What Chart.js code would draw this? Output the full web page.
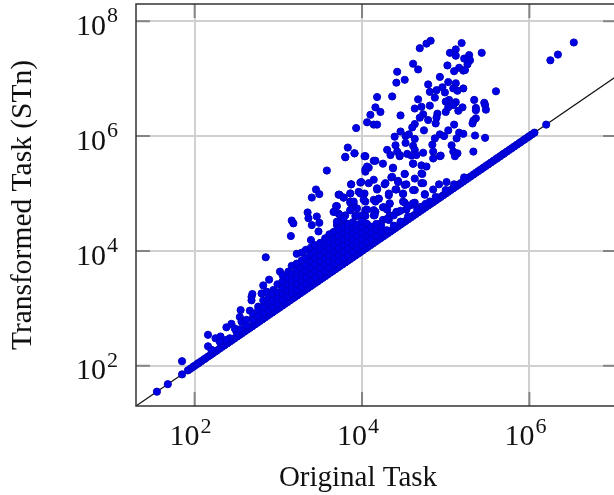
<!DOCTYPE html>
<html lang="en">
<head>
  <meta charset="UTF-8" />
  <title>Original vs Transformed Task</title>
  <script src="https://cdn.jsdelivr.net/npm/chart.js"></script>
  <style>
    html, body { margin: 0; padding: 0; background: #fff; }
    #wrap { width: 614px; height: 495px; }
  </style>
</head>
<body>
  <div id="wrap"><canvas id="chart" width="614" height="495"></canvas></div>
  <script>
    // all values are log10 of the task size
    const xRange = [1.30, 7.01];
    const yRange = [1.30, 8.30];
    const xTicks = [2, 4, 6];
    const yTicks = [2, 4, 6, 8];
    const refLine = [1.30, 8.30];

    // points sitting on the diagonal
    const sameSize = [1.55, 1.68, 1.85, 1.92, 1.95, 1.98, 2.0, 2.03, 2.05, 2.08, 2.11, 2.13, 2.16, 2.19, 2.22, 2.25, 2.27, 2.3,
      2.33, 2.36, 2.39, 2.42, 2.45, 2.48, 2.51, 2.54, 2.57, 2.6, 2.63, 2.66, 2.69, 2.72, 2.75, 2.78, 2.81, 2.84, 2.87, 2.9,
      2.93, 2.96, 2.99, 3.02, 3.05, 3.08, 3.11, 3.14, 3.17, 3.2, 3.23, 3.26, 3.29, 3.32, 3.35, 3.38, 3.41, 3.44, 3.47, 3.5,
      3.53, 3.56, 3.59, 3.62, 3.65, 3.68, 3.71, 3.74, 3.77, 3.8, 3.83, 3.86, 3.89, 3.92, 3.95, 3.98, 4.01, 4.04, 4.07, 4.1,
      4.13, 4.16, 4.19, 4.22, 4.25, 4.28, 4.31, 4.34, 4.37, 4.4, 4.43, 4.46, 4.49, 4.52, 4.55, 4.58, 4.61, 4.64, 4.67, 4.7,
      4.73, 4.76, 4.79, 4.82, 4.85, 4.88, 4.91, 4.94, 4.97, 5.0, 5.03, 5.06, 5.09, 5.12, 5.15, 5.18, 5.21, 5.24, 5.27, 5.3,
      5.33, 5.36, 5.39, 5.42, 5.45, 5.48, 5.51, 5.54, 5.57, 5.6, 5.62, 5.65, 5.68, 5.7, 5.73, 5.76, 5.79, 5.82, 5.85, 5.88,
      5.9, 5.93, 5.95, 5.98, 6.0, 6.03, 6.06, 6.2];

    // scattered points at the top
    const topX = [6.53, 6.34, 6.25, 4.82, 4.77, 4.69, 5.19, 5.12, 5.05, 5.12, 5.43, 5.28, 5.22, 5.29, 5.26, 5.02, 4.61, 4.67, 4.42, 5.16,
      5.1, 5.21, 5.23, 4.51, 4.41, 4.93, 5.03, 5.12, 4.79, 4.96, 5.21, 5.09, 5.14, 4.99, 4.81, 4.89, 5.6, 4.36, 4.18, 4.87,
      4.67, 5.04, 5.0, 5.12, 5.34, 5.46, 5.47, 4.16, 4.22, 4.1, 4.46, 4.63, 4.71, 4.81, 5.09, 5.03, 5.2, 5.15, 5.0, 5.36,
      5.36, 5.48, 4.9, 4.73, 4.69, 4.89, 4.79, 5.36, 5.33, 5.32, 4.06, 4.14, 4.18, 3.93, 4.63, 4.6, 4.74, 4.88, 5.1, 4.46,
      4.39, 4.52, 4.56, 5.03, 4.93, 4.87, 4.98, 5.16, 5.21, 5.35, 5.47, 4.63, 4.52, 5.13, 5.07, 4.84, 4.4, 4.61, 4.63, 3.83,
      3.8, 3.91, 4.04, 4.3, 4.42, 5.33, 5.09, 5.14, 5.11, 4.94, 4.85, 4.73, 4.54, 4.59, 4.45, 4.34];
    const topY = [7.63, 7.42, 7.32, 7.66, 7.61, 7.53, 7.62, 7.51, 7.45, 7.4, 7.45, 7.41, 7.35, 7.32, 7.25, 7.23, 7.26, 7.16, 7.12, 7.19,
      7.13, 7.14, 7.15, 6.98, 6.93, 7.03, 6.94, 6.92, 6.9, 6.85, 6.83, 6.83, 6.79, 6.76, 6.77, 6.8, 6.78, 6.69, 6.68, 6.67,
      6.64, 6.63, 6.6, 6.59, 6.63, 6.58, 6.54, 6.5, 6.42, 6.37, 6.36, 6.48, 6.51, 6.53, 6.54, 6.5, 6.5, 6.44, 6.42, 6.49,
      6.45, 6.46, 6.39, 6.38, 6.32, 6.32, 6.28, 6.31, 6.27, 6.22, 6.24, 6.2, 6.2, 6.14, 6.21, 6.15, 6.1, 6.22, 6.2, 6.08,
      5.99, 6.0, 6.03, 6.1, 6.03, 5.96, 6.0, 6.06, 6.04, 6.01, 5.97, 5.95, 5.88, 5.96, 5.84, 5.85, 5.84, 5.83, 5.76, 5.8,
      5.64, 5.7, 5.65, 5.76, 5.73, 5.73, 5.73, 5.7, 5.65, 5.66, 5.73, 5.71, 5.69, 5.66, 5.65, 5.67];

    // the looser middle of the cloud
    const midX = [3.58, 3.8, 3.91, 4.03, 4.14, 4.25, 4.08, 4.04, 4.37, 4.51, 4.35, 4.61, 4.71, 4.77, 4.72, 4.63, 4.93, 4.85, 4.65, 4.45,
      3.87, 3.98, 4.14, 4.27, 4.43, 4.51, 4.71, 4.63, 4.75, 4.85, 4.92, 5.01, 3.45, 3.4, 3.49, 3.72, 3.78, 3.86, 3.96, 4.03,
      4.18, 4.32, 4.41, 4.49, 4.2, 4.14, 3.69, 3.66, 3.86, 3.9, 4.04, 3.94, 4.04, 4.14, 4.14, 4.25, 4.33, 4.49, 4.59, 4.63,
      3.35, 3.36, 3.46, 3.49, 3.4, 3.16, 3.18, 3.15, 3.48, 3.39, 3.86, 3.72, 3.8, 3.92, 4.04, 3.74, 3.8, 3.7, 4.43, 4.33,
      4.25, 4.18, 4.53, 4.71, 4.81, 2.85];
    const midY = [5.4, 5.63, 5.7, 5.65, 5.57, 5.52, 5.45, 5.38, 5.45, 5.34, 5.28, 5.52, 5.49, 5.47, 5.34, 5.26, 5.65, 5.61, 5.67, 5.67,
      5.16, 5.19, 5.24, 5.16, 5.22, 5.15, 5.18, 5.06, 4.99, 5.07, 5.16, 5.2, 5.07, 4.93, 4.99, 4.98, 4.93, 5.0, 5.03, 5.0,
      5.07, 4.97, 5.07, 4.99, 4.91, 4.89, 4.78, 4.68, 4.84, 4.82, 4.86, 4.74, 4.71, 4.71, 4.62, 4.76, 4.82, 4.86, 4.8, 4.84,
      4.67, 4.57, 4.6, 4.49, 4.45, 4.53, 4.48, 4.26, 4.34, 4.19, 4.71, 4.65, 4.62, 4.61, 4.61, 4.54, 4.47, 4.45, 4.68, 4.62,
      4.54, 4.45, 4.72, 4.77, 4.86, 3.89];

    // second reading of the band just above the dense part
    const bandX = [3.67, 3.7, 3.73, 3.78, 3.86, 3.87, 3.86, 3.9, 3.98, 4.02, 4.06, 4.0, 3.94, 3.86, 3.74, 3.78, 3.7, 3.84, 3.72, 3.66,
      4.16, 4.15, 4.26, 4.3, 4.33, 4.16, 4.2, 4.32, 4.4, 4.49, 4.61, 4.75, 4.51, 4.61, 4.41, 4.32, 4.22, 4.14, 4.02, 4.1,
      3.99, 4.08, 4.18, 4.28, 4.36, 4.51, 4.61, 4.71, 4.43, 4.53, 4.73, 4.37, 4.16, 4.04, 4.06];
    const bandY = [4.68, 4.78, 4.98, 4.93, 5.0, 5.16, 4.86, 4.86, 5.0, 4.89, 4.72, 4.62, 4.61, 4.71, 4.62, 4.57, 4.51, 4.47, 4.39, 4.33,
      4.68, 4.62, 4.76, 4.72, 4.83, 4.86, 4.91, 5.0, 5.07, 5.0, 5.06, 4.98, 4.84, 4.83, 4.68, 4.54, 4.48, 4.36, 4.45, 4.42,
      5.2, 5.18, 5.09, 5.18, 5.29, 5.34, 5.52, 5.35, 5.2, 5.16, 5.18, 5.44, 5.57, 5.42, 5.47];

    // small tasks near the lower left
    const lowX = [1.85, 2.16, 2.16, 2.25, 2.31, 2.38, 2.44, 2.55, 2.54, 2.56, 2.66, 2.68, 2.69, 2.68, 2.82, 2.89, 2.8, 2.84, 2.76, 3.02,
      3.12, 2.94, 2.86, 2.98, 3.1, 3.2, 2.7, 2.62, 2.42, 2.5, 2.38, 2.3, 2.74, 2.9, 3.04, 2.94, 2.2, 2.48, 2.55];
    const lowY = [2.08, 2.54, 2.34, 2.48, 2.51, 2.67, 2.73, 2.97, 2.85, 2.77, 2.96, 3.2, 3.25, 3.14, 3.4, 3.5, 3.26, 3.09, 3.03, 3.64,
      3.64, 3.32, 3.29, 3.14, 3.26, 3.38, 2.85, 2.68, 2.48, 2.59, 2.45, 2.42, 2.91, 3.09, 3.23, 3.2, 2.28, 2.65, 2.64];

    // dense part of the cloud
    const denseX = [2.62, 2.62, 2.7, 2.7, 2.76, 2.76, 2.82, 2.82, 2.82, 2.88, 2.88, 2.88, 2.93, 2.93, 2.93, 2.99, 2.99, 2.99, 2.99,
      3.05, 3.05, 3.05, 3.05, 3.05, 3.11, 3.11, 3.11, 3.11, 3.16, 3.16, 3.16, 3.16, 3.16, 3.22, 3.22, 3.22, 3.22, 3.22, 3.22,
      3.28, 3.28, 3.28, 3.28, 3.28, 3.28, 3.33, 3.33, 3.33, 3.33, 3.33, 3.33, 3.39, 3.39, 3.39, 3.39, 3.39, 3.39,
      3.44, 3.44, 3.44, 3.44, 3.44, 3.44, 3.5, 3.5, 3.5, 3.5, 3.5, 3.5, 3.56, 3.56, 3.56, 3.56, 3.56, 3.56,
      3.61, 3.61, 3.61, 3.61, 3.61, 3.61, 3.67, 3.67, 3.67, 3.67, 3.67, 3.67, 3.72, 3.72, 3.72, 3.72, 3.72, 3.72,
      3.78, 3.78, 3.78, 3.78, 3.78, 3.78, 3.83, 3.83, 3.83, 3.83, 3.83, 3.83, 3.89, 3.89, 3.89, 3.89, 3.89, 3.89,
      3.94, 3.94, 3.94, 3.94, 3.94, 4.0, 4.0, 4.0, 4.0, 4.0, 4.06, 4.06, 4.06, 4.06, 4.11, 4.11, 4.11, 4.17, 4.17, 4.17,
      4.23, 4.23, 4.3, 4.3, 4.38, 4.38, 4.46, 4.46, 4.55, 4.55, 4.66, 4.76, 4.88, 5.0, 5.1, 5.22];
    const denseY = [2.7, 2.8, 2.79, 2.9, 2.86, 2.97, 2.92, 3.02, 3.14, 2.97, 3.09, 3.18, 3.03, 3.13, 3.25, 3.08, 3.19, 3.28, 3.42,
      3.14, 3.25, 3.35, 3.47, 3.58, 3.2, 3.31, 3.42, 3.53, 3.26, 3.36, 3.49, 3.6, 3.74, 3.31, 3.43, 3.53, 3.66, 3.78, 3.95,
      3.37, 3.48, 3.6, 3.71, 3.83, 3.97, 3.43, 3.54, 3.66, 3.75, 3.88, 4.02, 3.48, 3.6, 3.71, 3.82, 3.94, 4.06,
      3.54, 3.65, 3.77, 3.88, 4.0, 4.1, 3.6, 3.71, 3.82, 3.93, 4.04, 4.14, 3.65, 3.77, 3.87, 3.99, 4.1, 4.22,
      3.71, 3.82, 3.93, 4.05, 4.16, 4.29, 3.77, 3.88, 3.99, 4.1, 4.2, 4.33, 3.82, 3.93, 4.05, 4.16, 4.26, 4.38,
      3.88, 3.99, 4.1, 4.2, 4.31, 4.42, 3.93, 4.05, 4.16, 4.25, 4.36, 4.46, 3.99, 4.1, 4.2, 4.3, 4.42, 4.5,
      4.04, 4.15, 4.26, 4.36, 4.46, 4.1, 4.2, 4.31, 4.41, 4.52, 4.16, 4.26, 4.36, 4.47, 4.21, 4.31, 4.42, 4.27, 4.37, 4.47,
      4.33, 4.43, 4.36, 4.56, 4.44, 4.62, 4.51, 4.7, 4.6, 4.78, 4.72, 4.82, 4.94, 5.06, 5.16, 5.28];

    const serif = "'Liberation Serif', serif";
    const toPoints = (xs, ys) => xs.map((v, i) => ({ x: 10 ** v, y: 10 ** ys[i] }));

    const allPoints = [
      ...toPoints(sameSize, sameSize),
      ...toPoints(topX, topY),
      ...toPoints(midX, midY),
      ...toPoints(bandX, bandY),
      ...toPoints(lowX, lowY),
      ...toPoints(denseX, denseY)
    ];

    // inner tick marks, the frame and the 10^n labels (canvas ticks have no superscript)
    const framePlugin = {
      id: 'frame',
      afterDraw(chart) {
        const { ctx, chartArea: a, scales } = chart;
        ctx.save();
        ctx.strokeStyle = 'rgba(70,70,70,0.55)';
        ctx.lineWidth = 2;
        ctx.beginPath();
        xTicks.forEach(t => {
          const px = scales.x.getPixelForValue(10 ** t);
          ctx.moveTo(px, a.top); ctx.lineTo(px, a.top + 14);
          ctx.moveTo(px, a.bottom); ctx.lineTo(px, a.bottom - 14);
        });
        yTicks.forEach(t => {
          const py = scales.y.getPixelForValue(10 ** t);
          ctx.moveTo(a.left, py); ctx.lineTo(a.left + 14, py);
          ctx.moveTo(a.right, py); ctx.lineTo(a.right - 11, py);
        });
        ctx.stroke();
        ctx.strokeStyle = '#333';
        ctx.lineWidth = 1.5;
        ctx.beginPath();
        ctx.moveTo(a.right, a.top); ctx.lineTo(a.left, a.top);
        ctx.lineTo(a.left, a.bottom); ctx.lineTo(a.right, a.bottom);
        ctx.stroke();

        ctx.fillStyle = '#111';
        ctx.textAlign = 'left';
        ctx.textBaseline = 'alphabetic';
        const power = (exp, left, base) => {
          ctx.font = "30px " + serif;
          ctx.fillText('10', left, base);
          ctx.font = "22px " + serif;
          ctx.fillText(String(exp), left + 31, base - 12.5);
        };
        xTicks.forEach(t => power(t, scales.x.getPixelForValue(10 ** t) - 25, 445));
        yTicks.forEach(t => power(t, 76, scales.y.getPixelForValue(10 ** t) + 13.6));

        // the x title sits left of the plot centre in the original
        ctx.font = "29px " + serif;
        ctx.textAlign = 'center';
        ctx.fillText('Original Task', 358, 486);
        ctx.restore();
      }
    };

    const axisOptions = (range, ticks, title, size) => ({
      type: 'logarithmic',
      min: 10 ** range[0],
      max: 10 ** range[1],
      afterBuildTicks(scale) { scale.ticks = ticks.map(t => ({ value: 10 ** t, major: true })); },
      afterFit(scale) {
        if (scale.isHorizontal()) scale.height = size; else scale.width = size;
        scale.paddingLeft = scale.paddingRight = scale.paddingTop = scale.paddingBottom = 0;
      },
      grid: { color: '#d0d0d0', lineWidth: 2, drawTicks: false },
      border: { display: false },
      ticks: { display: false },
      title: { display: !!title, text: title, color: '#111', font: { family: serif, size: 29.5 }, padding: 6 }
    });

    new Chart(document.getElementById('chart').getContext('2d'), {
      type: 'scatter',
      data: {
        datasets: [
          {
            label: 'Tasks',
            data: allPoints,
            order: 1,
            pointRadius: 3.6,
            pointBorderWidth: 1,
            pointBackgroundColor: '#0000e6',
            pointBorderColor: '#0000c0'
          },
          {
            type: 'line',
            label: 'x = y',
            data: toPoints(refLine, refLine),
            order: 2,
            borderColor: '#111',
            borderWidth: 1.2,
            pointRadius: 0
          }
        ]
      },
      options: {
        responsive: false,
        animation: false,
        layout: { autoPadding: false, padding: { top: 4, right: 0, left: 0, bottom: 0 } },
        plugins: { legend: { display: false }, tooltip: { enabled: false } },
        scales: {
          x: axisOptions(xRange, xTicks, '', 89),
          y: axisOptions(yRange, yTicks, 'Transformed Task (STn)', 136)
        }
      },
      plugins: [framePlugin]
    });
  </script>
</body>
</html>
